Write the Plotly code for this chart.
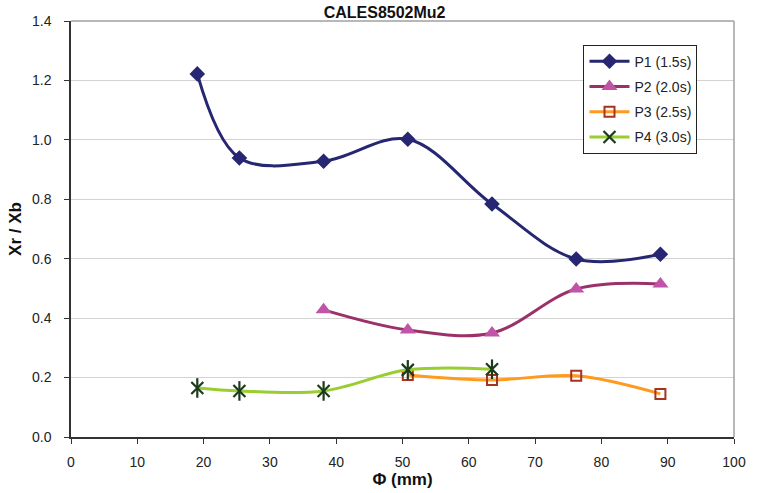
import plotly.graph_objects as go

# Pipe diameters (mm) and measured Xr/Xb ratios for each period
phi = [19.05, 25.4, 38.1, 50.8, 63.5, 76.2, 88.9]

p1_x = phi
p1_y = [1.222, 0.939, 0.928, 1.002, 0.784, 0.599, 0.615]

p2_x = [38.1, 50.8, 63.5, 76.2, 88.9]
p2_y = [0.428, 0.360, 0.350, 0.498, 0.515]

p3_x = [50.8, 63.5, 76.2, 88.9]
p3_y = [0.209, 0.192, 0.206, 0.145]

p4_x = [19.05, 25.4, 38.1, 50.8, 63.5]
p4_y = [0.165, 0.155, 0.155, 0.226, 0.228]

x_ticks = list(range(0, 101, 10))
y_ticks = [0.0, 0.2, 0.4, 0.6, 0.8, 1.0, 1.2, 1.4]

FONT = "Liberation Sans, Arial, sans-serif"

fig = go.Figure()

fig.add_trace(go.Scatter(
    x=p1_x, y=p1_y, name="P1 (1.5s)", mode="lines+markers", legendgroup="p1",
    line=dict(color="#262672", width=3, shape="spline", smoothing=1),
    marker=dict(symbol="diamond", size=12, color="#262672"),
))
fig.add_trace(go.Scatter(
    x=p2_x, y=p2_y, name="P2 (2.0s)", mode="lines+markers", legendgroup="p2",
    line=dict(color="#9C3169", width=3, shape="spline", smoothing=1),
    marker=dict(symbol="triangle-up", size=14, color="#C055A8"),
))
fig.add_trace(go.Scatter(
    x=p3_x, y=p3_y, name="P3 (2.5s)", mode="lines+markers", legendgroup="p3",
    line=dict(color="#FF9A1E", width=3, shape="spline", smoothing=1),
    marker=dict(symbol="square-open", size=10, color="#A83222",
                line=dict(width=2, color="#A83222")),
))
fig.add_trace(go.Scatter(
    x=p4_x, y=p4_y, name="P4 (3.0s)", mode="lines+markers", legendgroup="p4",
    line=dict(color="#9ACD32", width=3, shape="spline", smoothing=1),
    marker=dict(symbol="x-thin-open", size=12, color="#1C3A1C",
                line=dict(width=2.2, color="#1C3A1C")),
))
# vertical stroke completing the asterisk markers of P4
fig.add_trace(go.Scatter(
    x=p4_x, y=p4_y, mode="markers", showlegend=False, hoverinfo="skip",
    legendgroup="p4",
    marker=dict(symbol="line-ns-open", size=14, color="#1C3A1C",
                line=dict(width=2.2, color="#1C3A1C")),
))

fig.update_layout(
    width=758, height=493,
    margin=dict(l=71, r=20, t=21, b=56),
    paper_bgcolor="white", plot_bgcolor="white",
    font=dict(family=FONT, size=14, color="#222222"),
    title=dict(text="<b>CALES8502Mu2</b>", xref="paper", x=0.473,
               xanchor="center", yref="container", y=0.974,
               yanchor="middle", font=dict(size=16, color="#111111")),
    showlegend=True,
    legend=dict(x=0.773, y=0.943, xanchor="left", yanchor="top",
                bgcolor="white", bordercolor="#222222", borderwidth=1,
                font=dict(size=14, color="#222222"), tracegroupgap=4,
                itemwidth=40),
)

fig.update_xaxes(
    range=[0, 100], tickvals=x_ticks, ticks="outside", ticklen=5,
    tickcolor="#333333", showgrid=False, zeroline=False,
    showline=True, linecolor="#333333", linewidth=1.5, mirror=False,
    tickfont=dict(size=14, color="#222222"), ticklabelstandoff=6,
    title=dict(text="<b>Φ (mm)</b>", font=dict(size=17, color="#111111"),
               standoff=0),
)
fig.update_yaxes(
    range=[0, 1.4], tickvals=y_ticks, tickformat=".1f", ticks="outside",
    ticklen=5, tickcolor="#333333", showgrid=True, gridcolor="#D3D3D3",
    gridwidth=1, zeroline=False, showline=True, linecolor="#333333",
    linewidth=1.5, tickfont=dict(size=14, color="#222222"),
    ticklabelstandoff=10,
    title=dict(text="<b>Xr / Xb</b>", font=dict(size=17, color="#111111"),
               standoff=6),
)

# grey frame along the top and right edges of the plot area
fig.add_shape(type="line", xref="paper", yref="paper", x0=0, x1=1, y0=1, y1=1,
              line=dict(color="#A0A0A0", width=1.5))
fig.add_shape(type="line", xref="paper", yref="paper", x0=1, x1=1, y0=0, y1=1,
              line=dict(color="#A0A0A0", width=1.5))

fig.write_html("out.html")
